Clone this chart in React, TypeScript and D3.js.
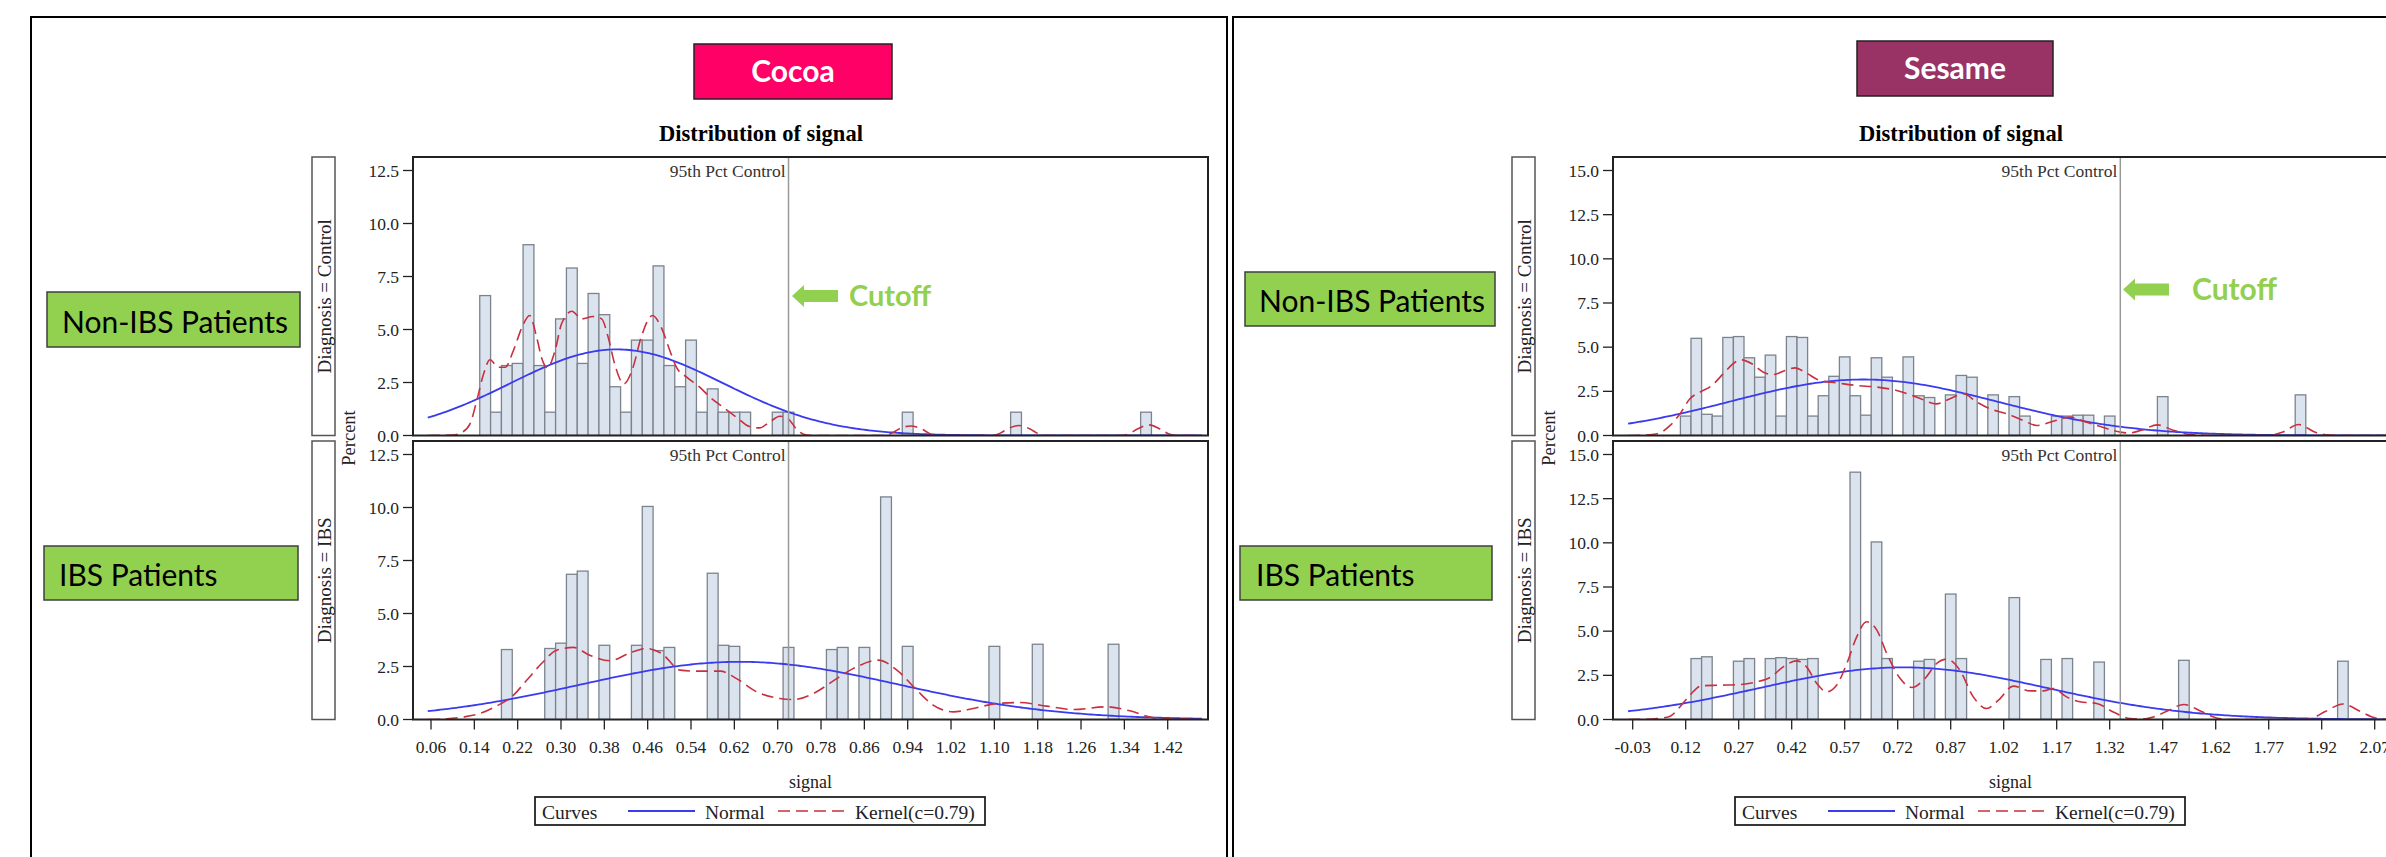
import React from "react";
import * as d3 from "d3";

const W = 2386;
const H = 857;
const SERIF = "'Liberation Serif', 'DejaVu Serif', serif";
const SANS = "Lato, 'Open Sans', sans-serif";

// ---------- Cocoa ----------
const cocoaTicks = [0.06, 0.14, 0.22, 0.3, 0.38, 0.46, 0.54, 0.62, 0.7, 0.78, 0.86, 0.94, 1.02, 1.1, 1.18, 1.26, 1.34, 1.42];
const cocoaTickLabels = ["0.06", "0.14", "0.22", "0.30", "0.38", "0.46", "0.54", "0.62", "0.70", "0.78", "0.86", "0.94", "1.02", "1.10", "1.18", "1.26", "1.34", "1.42"];
const cocoaYTicks = [0, 2.5, 5, 7.5, 10, 12.5];

const cocoaControlMid = [0.16, 0.18, 0.2, 0.22, 0.24, 0.26, 0.28, 0.3, 0.32, 0.34, 0.36, 0.38, 0.4, 0.42, 0.44, 0.46, 0.48, 0.5, 0.52, 0.54, 0.56, 0.58, 0.6, 0.62, 0.64, 0.7, 0.72, 0.94, 1.14, 1.38];
const cocoaControlPct = [6.6, 1.1, 3.3, 3.4, 9.0, 3.3, 1.1, 5.5, 7.9, 3.4, 6.7, 5.7, 2.3, 1.1, 4.5, 4.5, 8.0, 3.3, 2.3, 4.5, 1.1, 2.2, 1.1, 1.1, 1.1, 1.1, 1.1, 1.1, 1.1, 1.1];

const cocoaIbsMid = [0.2, 0.28, 0.3, 0.32, 0.34, 0.38, 0.44, 0.46, 0.48, 0.5, 0.58, 0.6, 0.62, 0.72, 0.8, 0.82, 0.86, 0.9, 0.94, 1.1, 1.18, 1.32];
const cocoaIbsPct = [3.3, 3.35, 3.6, 6.85, 7.0, 3.5, 3.5, 10.05, 3.25, 3.4, 6.9, 3.5, 3.45, 3.4, 3.3, 3.4, 3.4, 10.5, 3.45, 3.45, 3.55, 3.55];

const cocoaControlKernel: [number, number][] = [
  [0.054, 0], [0.1, 0.02], [0.115, 0.12], [0.132, 0.55], [0.145, 1.7], [0.157, 2.9], [0.169, 3.57], [0.184, 3.22], [0.197, 3.22],
  [0.212, 4.0], [0.228, 5.1], [0.242, 5.66], [0.255, 4.64], [0.265, 3.6], [0.275, 3.19], [0.289, 4.0], [0.301, 5.27], [0.32, 5.86],
  [0.338, 5.5], [0.359, 5.61], [0.375, 5.5], [0.387, 4.64], [0.399, 3.38], [0.416, 2.44], [0.433, 3.22], [0.448, 4.64], [0.469, 5.66],
  [0.485, 5.1], [0.501, 4.0], [0.513, 3.22], [0.532, 2.75], [0.556, 2.28], [0.575, 1.81], [0.599, 1.34], [0.624, 0.86], [0.648, 0.42],
  [0.667, 0.36], [0.685, 0.63], [0.704, 0.91], [0.719, 0.79], [0.737, 0.24], [0.753, 0.02], [0.77, 0], [0.895, 0], [0.91, 0.1],
  [0.925, 0.32], [0.945, 0.45], [0.965, 0.32], [0.98, 0.1], [0.995, 0], [1.095, 0], [1.11, 0.1], [1.125, 0.32], [1.145, 0.47],
  [1.165, 0.32], [1.18, 0.1], [1.195, 0], [1.335, 0], [1.35, 0.1], [1.365, 0.32], [1.385, 0.5], [1.405, 0.32], [1.42, 0.1],
  [1.435, 0], [1.483, 0],
];
const cocoaIbsKernel: [number, number][] = [
  [0.054, 0], [0.09, 0.03], [0.12, 0.12], [0.15, 0.28], [0.178, 0.6], [0.209, 1.07], [0.237, 1.86], [0.264, 2.64], [0.292, 3.27],
  [0.323, 3.4], [0.353, 3.03], [0.39, 2.77], [0.427, 3.14], [0.458, 3.35], [0.486, 3.11], [0.52, 2.33], [0.55, 2.28], [0.594, 2.28],
  [0.624, 1.93], [0.661, 1.31], [0.704, 0.99], [0.729, 0.94], [0.766, 1.23], [0.809, 1.93], [0.84, 2.41], [0.886, 2.8], [0.92, 2.33],
  [0.957, 1.38], [0.987, 0.68], [1.024, 0.36], [1.061, 0.52], [1.104, 0.75], [1.147, 0.8], [1.197, 0.63], [1.246, 0.47], [1.307, 0.6],
  [1.35, 0.41], [1.393, 0.09], [1.443, 0.03], [1.483, 0],
];
// [mean, sd] of fitted normal curves
const cocoaControlNormal = [0.403, 0.1965];
const cocoaIbsNormal = [0.63, 0.2933];

// ---------- Sesame ----------
const sesameTicks = [-0.03, 0.12, 0.27, 0.42, 0.57, 0.72, 0.87, 1.02, 1.17, 1.32, 1.47, 1.62, 1.77, 1.92, 2.07];
const sesameTickLabels = ["-0.03", "0.12", "0.27", "0.42", "0.57", "0.72", "0.87", "1.02", "1.17", "1.32", "1.47", "1.62", "1.77", "1.92", "2.07"];
const sesameYTicks = [0, 2.5, 5, 7.5, 10, 12.5, 15];

const sesameControlMid = [0.12, 0.15, 0.18, 0.21, 0.24, 0.27, 0.3, 0.33, 0.36, 0.39, 0.42, 0.45, 0.48, 0.51, 0.54, 0.57, 0.6, 0.63, 0.66, 0.69, 0.75, 0.78, 0.81, 0.87, 0.9, 0.93, 0.99, 1.05, 1.08, 1.17, 1.2, 1.23, 1.26, 1.32, 1.47, 1.86];
const sesameControlPct = [1.1, 5.5, 1.2, 1.1, 5.55, 5.6, 4.4, 3.3, 4.55, 1.1, 5.6, 5.55, 1.1, 2.25, 3.35, 4.45, 2.25, 1.15, 4.4, 3.3, 4.45, 2.25, 2.15, 2.3, 3.4, 3.3, 2.3, 2.2, 1.1, 1.1, 1.1, 1.15, 1.15, 1.1, 2.2, 2.3];

const sesameIbsMid = [0.15, 0.18, 0.27, 0.3, 0.36, 0.39, 0.42, 0.45, 0.48, 0.6, 0.66, 0.69, 0.78, 0.81, 0.87, 0.9, 1.05, 1.14, 1.2, 1.29, 1.53, 1.98];
const sesameIbsPct = [3.45, 3.55, 3.3, 3.45, 3.45, 3.5, 3.45, 3.4, 3.45, 14.0, 10.05, 3.45, 3.3, 3.4, 7.1, 3.45, 6.9, 3.4, 3.45, 3.25, 3.35, 3.3];

const sesameControlKernel: [number, number][] = [
  [-0.043, 0], [0.0, 0.02], [0.04, 0.1], [0.076, 0.57], [0.104, 1.23], [0.132, 2.08], [0.16, 2.45], [0.194, 2.83], [0.226, 3.49],
  [0.26, 4.15], [0.278, 4.28], [0.307, 4.06], [0.34, 3.58], [0.368, 3.45], [0.401, 3.68], [0.429, 3.83], [0.462, 3.53], [0.5, 3.11],
  [0.547, 2.98], [0.604, 2.83], [0.661, 2.74], [0.717, 2.55], [0.774, 2.17], [0.83, 1.79], [0.868, 2.08], [0.906, 2.36], [0.944, 1.89],
  [0.981, 1.51], [1.029, 1.23], [1.076, 0.85], [1.113, 0.57], [1.16, 0.81], [1.208, 1.04], [1.255, 0.75], [1.302, 0.45], [1.35, 0.19],
  [1.375, 0.14], [1.41, 0.3], [1.455, 0.6], [1.5, 0.3], [1.55, 0.05], [1.6, 0], [1.77, 0], [1.81, 0.2], [1.855, 0.62], [1.9, 0.2],
  [1.94, 0.02], [1.98, 0], [2.2, 0],
];
const sesameIbsKernel: [number, number][] = [
  [-0.043, 0], [0.0, 0.01], [0.04, 0.05], [0.076, 0.19], [0.104, 0.72], [0.132, 1.38], [0.165, 1.91], [0.217, 1.94], [0.274, 1.98],
  [0.321, 2.13], [0.359, 2.38], [0.396, 2.98], [0.434, 3.32], [0.462, 2.98], [0.491, 2.04], [0.519, 1.57], [0.547, 1.94], [0.576, 3.17],
  [0.604, 4.68], [0.632, 5.53], [0.661, 5.06], [0.689, 3.74], [0.727, 2.32], [0.76, 1.81], [0.797, 2.32], [0.83, 3.17], [0.859, 3.42],
  [0.896, 2.79], [0.934, 1.28], [0.972, 0.62], [1.005, 1.09], [1.047, 1.89], [1.095, 1.62], [1.132, 1.62], [1.16, 1.75], [1.198, 1.28],
  [1.236, 1.0], [1.283, 0.91], [1.33, 0.43], [1.378, 0.05], [1.41, 0.02], [1.44, 0.12], [1.48, 0.45], [1.53, 0.85], [1.58, 0.45],
  [1.62, 0.1], [1.66, 0], [1.88, 0], [1.93, 0.45], [1.98, 0.88], [2.03, 0.45], [2.07, 0.1], [2.11, 0], [2.2, 0],
];
const sesameControlNormal = [0.623, 0.3776];
const sesameIbsNormal = [0.736, 0.4057];

type FigCfg = {
  id: string;
  dx: number;
  xDomain: [number, number];
  xRange: [number, number];
  ticks: number[];
  tickLabels: string[];
  yTicks: number[];
  yMax: number;
  binW: number;
  curveRange: [number, number];
  ref: number;
  panels: { mid: number[]; pct: number[]; kernel: [number, number][]; normal: number[]; strip: string }[];
};

const cocoaCfg: FigCfg = {
  id: "cocoa",
  dx: 0,
  xDomain: [0.06, 1.42],
  xRange: [431, 1167.7],
  ticks: cocoaTicks,
  tickLabels: cocoaTickLabels,
  yTicks: cocoaYTicks,
  yMax: 12.5,
  binW: 0.02,
  curveRange: [0.054, 1.483],
  ref: 0.72,
  panels: [
    { mid: cocoaControlMid, pct: cocoaControlPct, kernel: cocoaControlKernel, normal: cocoaControlNormal, strip: "Diagnosis = Control" },
    { mid: cocoaIbsMid, pct: cocoaIbsPct, kernel: cocoaIbsKernel, normal: cocoaIbsNormal, strip: "Diagnosis = IBS" },
  ],
};

const sesameCfg: FigCfg = {
  id: "sesame",
  dx: 1200,
  xDomain: [-0.03, 2.07],
  xRange: [1632.7, 2374.7],
  ticks: sesameTicks,
  tickLabels: sesameTickLabels,
  yTicks: sesameYTicks,
  yMax: 15,
  binW: 0.03,
  curveRange: [-0.043, 2.2],
  ref: 1.35,
  panels: [
    { mid: sesameControlMid, pct: sesameControlPct, kernel: sesameControlKernel, normal: sesameControlNormal, strip: "Diagnosis = Control" },
    { mid: sesameIbsMid, pct: sesameIbsPct, kernel: sesameIbsKernel, normal: sesameIbsNormal, strip: "Diagnosis = IBS" },
  ],
};

const PANEL_TOPS = [157, 441];
const PANEL_BASES = [435.5, 719.5];
const PANEL_SPAN = 265;

function Figure({ cfg }: { cfg: FigCfg }) {
  const dx = cfg.dx;
  const x = d3.scaleLinear().domain(cfg.xDomain).range(cfg.xRange);
  const plotL = 413 + dx;
  const plotR = 1208 + dx;
  const stripX = 312 + dx;
  const refX = x(cfg.ref);

  return (
    <g>
      {/* title */}
      <text x={761 + dx} y={141} textAnchor="middle" fontFamily={SERIF} fontWeight="bold" fontSize={22.5} fill="#000">
        Distribution of signal
      </text>
      {cfg.panels.map((p, i) => {
        const top = PANEL_TOPS[i];
        const base = PANEL_BASES[i];
        const y = d3.scaleLinear().domain([0, cfg.yMax]).range([base, base - PANEL_SPAN]);
        const clipId = `clip-${cfg.id}-${i}`;
        const [mu, sd] = p.normal;
        const peak = (100 * cfg.binW) / (sd * Math.sqrt(2 * Math.PI));
        const xs = d3.range(0, 301).map((k) => cfg.curveRange[0] + ((cfg.curveRange[1] - cfg.curveRange[0]) * k) / 300);
        const normalPts: [number, number][] = xs.map((v) => [v, peak * Math.exp(-0.5 * ((v - mu) / sd) ** 2)]);
        const line = d3
          .line<[number, number]>()
          .x((d) => x(d[0]))
          .y((d) => y(d[1]));
        const kernelLine = d3
          .line<[number, number]>()
          .x((d) => x(d[0]))
          .y((d) => y(d[1]))
          .curve(d3.curveMonotoneX);
        return (
          <g key={i}>
            <defs>
              <clipPath id={clipId}>
                <rect x={plotL} y={top} width={plotR - plotL} height={base - top} />
              </clipPath>
            </defs>
            {/* strip */}
            <rect x={stripX} y={top} width={23} height={base - top} fill="#fff" stroke="#555" strokeWidth={1.5} />
            <text
              transform={`translate(${stripX + 18.5},${(top + base) / 2}) rotate(-90)`}
              textAnchor="middle"
              fontFamily={SERIF}
              fontSize={19}
              fill="#222"
            >
              {p.strip}
            </text>
            {/* y axis */}
            {cfg.yTicks.map((t) => (
              <g key={t}>
                <line x1={plotL - 10} x2={plotL} y1={y(t)} y2={y(t)} stroke="#222" strokeWidth={1.3} />
                <text x={plotL - 14} y={y(t) + 6} textAnchor="end" fontFamily={SERIF} fontSize={17.5} fill="#222">
                  {t.toFixed(1)}
                </text>
              </g>
            ))}
            {/* bars */}
            <g clipPath={`url(#${clipId})`}>
              {p.mid.map((m, j) => (
                <rect
                  key={j}
                  x={x(m - cfg.binW / 2)}
                  y={y(p.pct[j])}
                  width={x(m + cfg.binW / 2) - x(m - cfg.binW / 2)}
                  height={y(0) - y(p.pct[j])}
                  fill="#dae3ee"
                  stroke="#7b838d"
                  strokeWidth={1.3}
                />
              ))}
              <path d={line(normalPts) || ""} fill="none" stroke="#3a3af0" strokeWidth={1.8} />
              <path d={kernelLine(p.kernel) || ""} fill="none" stroke="#c8303f" strokeWidth={1.6} strokeDasharray="12,6" />
            </g>
            {/* reference line */}
            <line x1={refX} x2={refX} y1={top} y2={base} stroke="#9a9a9a" strokeWidth={1.5} />
            <text x={refX - 3} y={top + 20} textAnchor="end" fontFamily={SERIF} fontSize={17.5} fill="#333">
              95th Pct Control
            </text>
            {/* frame */}
            <rect x={plotL} y={top} width={plotR - plotL} height={base - top} fill="none" stroke="#222" strokeWidth={2} />
          </g>
        );
      })}
      {/* Percent label */}
      <text
        transform={`translate(${plotL - 58},${438}) rotate(-90)`}
        textAnchor="middle"
        fontFamily={SERIF}
        fontSize={18.5}
        fill="#222"
      >
        Percent
      </text>
      {/* x axis */}
      {cfg.ticks.map((t, i) => (
        <g key={t}>
          <line x1={x(t)} x2={x(t)} y1={PANEL_BASES[1]} y2={PANEL_BASES[1] + 10} stroke="#222" strokeWidth={1.3} />
          <text x={x(t)} y={753} textAnchor="middle" fontFamily={SERIF} fontSize={17.5} fill="#222">
            {cfg.tickLabels[i]}
          </text>
        </g>
      ))}
      <text x={(plotL + plotR) / 2} y={788} textAnchor="middle" fontFamily={SERIF} fontSize={18} fill="#222">
        signal
      </text>
      {/* legend */}
      <g>
        <rect x={535 + dx} y={797} width={450} height={28} fill="#fff" stroke="#222" strokeWidth={1.8} />
        <text x={542 + dx} y={819} fontFamily={SERIF} fontSize={19.5} fill="#222">
          Curves
        </text>
        <line x1={628 + dx} x2={695 + dx} y1={811} y2={811} stroke="#3a3af0" strokeWidth={1.8} />
        <text x={705 + dx} y={819} fontFamily={SERIF} fontSize={19.5} fill="#222">
          Normal
        </text>
        <line x1={778 + dx} x2={848 + dx} y1={811} y2={811} stroke="#c8303f" strokeWidth={1.6} strokeDasharray="12,6" />
        <text x={855 + dx} y={819} fontFamily={SERIF} fontSize={19.5} fill="#222">
          Kernel(c=0.79)
        </text>
      </g>
    </g>
  );
}

function Cutoff({ tipX, cy, textX, baseline, size }: { tipX: number; cy: number; textX: number; baseline: number; size: number }) {
  const pts = [
    [tipX, cy],
    [tipX + 12, cy - 11],
    [tipX + 12, cy - 6],
    [tipX + 46, cy - 6],
    [tipX + 46, cy + 6],
    [tipX + 12, cy + 6],
    [tipX + 12, cy + 11],
  ]
    .map((p) => p.join(","))
    .join(" ");
  return (
    <g>
      <polygon points={pts} fill="#92d050" />
      <text x={textX} y={baseline} fontFamily={SANS} fontWeight="bold" fontSize={size} fill="#92d050">
        Cutoff
      </text>
    </g>
  );
}

function LabelBox({ x, y, w, h, text, tx, ty }: { x: number; y: number; w: number; h: number; text: string; tx: number; ty: number }) {
  return (
    <g>
      <rect x={x} y={y} width={w} height={h} fill="#92d050" stroke="#3f3f3f" strokeWidth={1.5} />
      <text x={tx} y={ty} fontFamily={SANS} fontSize={30} fill="#000">
        {text}
      </text>
    </g>
  );
}

export default function App() {
  return (
    <svg
      width={W}
      height={H}
      viewBox={`0 0 ${W} ${H}`}
      style={{ position: "absolute", left: 0, top: 0, display: "block", background: "#fff" }}
    >
      <rect x={0} y={0} width={W} height={H} fill="#fff" />
      {/* figure borders */}
      <rect x={31} y={17} width={1196} height={900} fill="none" stroke="#000" strokeWidth={2} />
      <rect x={1233} y={17} width={1200} height={900} fill="none" stroke="#000" strokeWidth={2} />

      {/* header boxes */}
      <rect x={694} y={44} width={198} height={55} fill="#ff0066" stroke="#222" strokeWidth={1.5} />
      <text x={793} y={82} textAnchor="middle" fontFamily={SANS} fontWeight="bold" fontSize={30} fill="#fff">
        Cocoa
      </text>
      <rect x={1857} y={41} width={196} height={55} fill="#993366" stroke="#222" strokeWidth={1.5} />
      <text x={1955} y={79} textAnchor="middle" fontFamily={SANS} fontWeight="bold" fontSize={30} fill="#fff">
        Sesame
      </text>

      <Figure cfg={cocoaCfg} />
      <Figure cfg={sesameCfg} />

      <LabelBox x={47} y={292} w={253} h={55} text="Non-IBS Patients" tx={62} ty={333} />
      <LabelBox x={44} y={546} w={254} h={54} text="IBS Patients" tx={59} ty={586} />
      <LabelBox x={1245} y={272} w={250} h={54} text="Non-IBS Patients" tx={1259} ty={312} />
      <LabelBox x={1240} y={546} w={252} h={54} text="IBS Patients" tx={1256} ty={586} />

      <Cutoff tipX={792} cy={296} textX={849} baseline={306} size={29} />
      <Cutoff tipX={2123} cy={289.5} textX={2192} baseline={300} size={30} />
    </svg>
  );
}
